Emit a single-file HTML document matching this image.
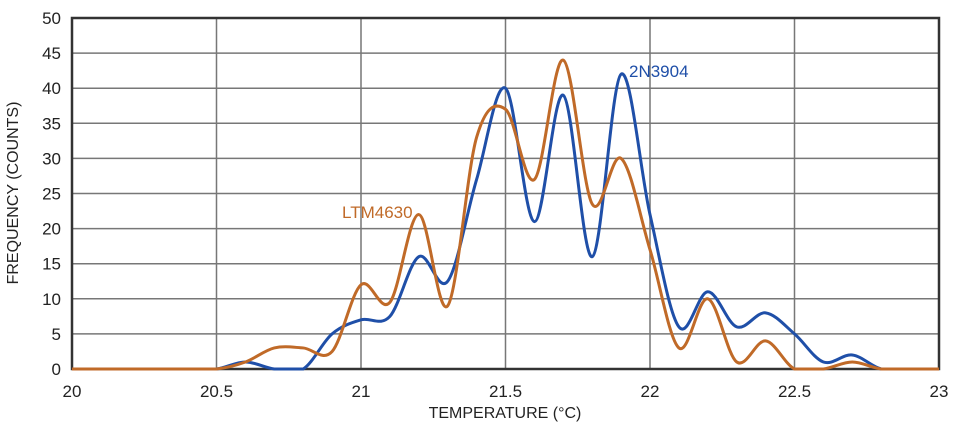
<!DOCTYPE html>
<html><head><meta charset="utf-8"><style>
body{margin:0;background:#fff}
svg text{font-family:"Liberation Sans",sans-serif}
</style></head><body>
<svg id="s" width="954" height="429" xmlns="http://www.w3.org/2000/svg">
<g id="grid" stroke="#777" stroke-width="1.5"></g>
<rect x="72" y="18" width="867" height="351" fill="none" stroke="#333" stroke-width="2.5"/>
<g id="lbl" font-size="17" fill="#222"></g>
<text x="18" y="193" font-size="16" fill="#222" text-anchor="middle" transform="rotate(-90 18 193)">FREQUENCY (COUNTS)</text>
<text x="505" y="418" font-size="16" fill="#222" text-anchor="middle">TEMPERATURE (°C)</text>
<path id="pb" fill="none" stroke="#1f4fa8" stroke-width="3"/>
<path id="po" fill="none" stroke="#c06a28" stroke-width="3"/>
<text x="629" y="77" font-size="17" fill="#1f4fa8">2N3904</text>
<text x="342" y="218" font-size="17" fill="#c06a28">LTM4630</text>
</svg>
<script>
var X=function(t){return 72+(t-20)*289},Y=function(v){return 369-v*7.02};
var g=document.getElementById('grid'),l=document.getElementById('lbl'),ns='http://www.w3.org/2000/svg';
for(var i=1;i<10;i++){var y=Y(i*5);var e=document.createElementNS(ns,'line');e.setAttribute('x1',72);e.setAttribute('x2',939);e.setAttribute('y1',y);e.setAttribute('y2',y);g.appendChild(e);}
for(var i=1;i<6;i++){var x=72+i*144.5;var e=document.createElementNS(ns,'line');e.setAttribute('x1',x);e.setAttribute('x2',x);e.setAttribute('y1',18);e.setAttribute('y2',369);g.appendChild(e);}
for(var i=0;i<=10;i++){var t=document.createElementNS(ns,'text');t.setAttribute('x',61);t.setAttribute('y',Y(i*5)+6);t.setAttribute('text-anchor','end');t.textContent=i*5;l.appendChild(t);}
var xl=['20','20.5','21','21.5','22','22.5','23'];
for(var i=0;i<7;i++){var t=document.createElementNS(ns,'text');t.setAttribute('x',72+i*144.5);t.setAttribute('y',397);t.setAttribute('text-anchor','middle');t.textContent=xl[i];l.appendChild(t);}
var b=[0,0,0,0,0,0,1,0,0,5,7,7.5,16,12.5,27,40,21,39,16,42,22,6,11,6,8,5,1,2,0,0,0];
var o=[0,0,0,0,0,0,1,3,3,2.5,12,9.5,22,9,33,37,27,44,23.5,30,17,3,10,1,4,0,0,1,0,0,0];
function path(a,start){var p=[];for(var i=0;i<a.length;i++)p.push([X(start+i*0.1),Y(a[i])]);
var d='M'+X(20)+','+Y(0)+' L'+p[0][0]+','+p[0][1];
for(var i=0;i<p.length-1;i++){var p0=p[Math.max(0,i-1)],p1=p[i],p2=p[i+1],p3=p[Math.min(p.length-1,i+2)];
var c1=[p1[0]+(p2[0]-p0[0])/6,p1[1]+(p2[1]-p0[1])/6],c2=[p2[0]-(p3[0]-p1[0])/6,p2[1]-(p3[1]-p1[1])/6];
c1[1]=Math.min(c1[1],369);c2[1]=Math.min(c2[1],369);
d+=' C'+c1+' '+c2+' '+p2;}return d;}
document.getElementById('pb').setAttribute('d',path(b,20.0));
document.getElementById('po').setAttribute('d',path(o,20.0));
</script>
</body></html>
